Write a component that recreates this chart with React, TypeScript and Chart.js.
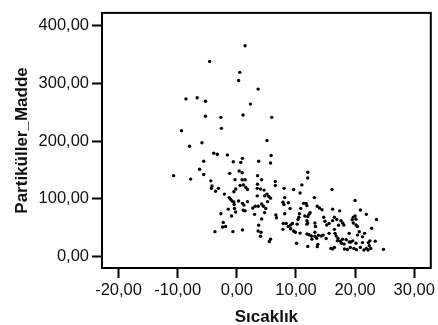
import React, { useEffect, useRef } from "react";
import { Chart, registerables } from "chart.js";

Chart.register(...registerables);

const sicaklik: number[] = [
  1.4, -4.6, 0.5, 0.3, 3.6, -8.6, -6.7, -5.3, 2.3, -5.3, -2.7, 1.05, 5.9, -9.35, -2.6,
  -8.0, -5.9, -5.6, -6.3, -5.6, -10.7, -7.8, -4.4, -4.2, -4.3,
  -3.9, -3.3, -1.6, -0.6, 0.67, 0.95, -1.2, 0.4, 0.9, -0.3, 0.9, 1.4, -3.1, -3.6, 0.55,
  1.1, 1.5, 1.8, -0.17, -0.5, -2.1, -1.3, -1.05, -0.8, -0.5, 0.3, -0.45, 0.95, 1.2, 1.8,
  -1.45, -0.4, -0.2, 1.1, 1.4, 2.7, 3.1, -2.7, -0.9, 3.0, -2.3, -2.4, -1.9, -3.7, -0.67,
  0.95, 3.6, 3.5, 3.5, 3.45, 3.45, 3.7, 3.7,
  5.1, 5.8, 5.7, 4.2, 4.0, 4.6, 5.1, 5.4, 5.7, 4.7, 5.2, 4.2, 3.6, 4.5, 4.9, 4.7, 4.2,
  4.1, 4.0, 5.7, 5.5, 6.5, 6.5, 8.0, 9.6, 10.7, 11.0, 8.1, 7.8, 7.96, 8.7, 9.0, 10.8,
  11.3, 8.1, 6.6, 6.7, 10.6, 10.5, 10.35, 7.85, 8.35, 8.7, 9.1, 9.4, 9.1, 7.8, 9.6, 9.9,
  10.2, 10.7, 10.1,
  12.0, 12.0, 16.1, 13.1, 11.7, 11.85, 13.6, 13.97, 14.4, 16.2, 17.4, 12.2, 12.4, 12.0,
  11.5, 11.85, 12.0, 11.85, 13.2, 13.3, 14.7, 14.9, 16.5, 16.9, 16.2, 17.6, 17.9, 18.1,
  15.6, 15.2, 17.2, 11.85, 12.2, 12.6, 13.2, 13.2, 13.8, 14.3, 14.6, 12.7, 13.5, 13.7,
  12.0, 13.6, 15.1, 15.6, 16.5, 16.6, 16.8, 17.0, 17.1, 17.5, 17.7, 17.9, 18.15, 18.5,
  19.0, 15.9, 16.2, 16.5, 18.2, 18.7, 19.0,
  20.0, 20.9, 21.9, 23.6, 20.0, 19.7, 20.15, 19.5, 19.7, 20.15, 20.4, 22.8, 20.7, 20.4,
  21.6, 21.25, 22.5, 22.25, 23.4, 19.3, 19.6, 20.15, 19.2, 19.8, 20.25, 20.9, 21.25,
  21.5, 21.9, 22.2, 22.4, 22.65, 24.8,
];

const partikuller: number[] = [
  365, 338, 319, 305, 290, 273, 275, 269, 264, 243, 241, 245, 241, 218, 222,
  191, 197, 165, 151, 142, 140, 134, 131, 122, 118,
  179, 177, 176, 164, 163, 170, 144, 148, 145, 133, 133, 133, 118, 113, 123,
  124, 120, 116, 117, 112, 108, 102, 99, 96, 94.5, 96, 90, 92, 89, 95,
  82, 83, 77, 80, 79, 84, 87, 74, 70, 73, 59, 51, 52, 43, 43,
  46, 44, 140, 125, 118, 105, 165, 54,
  201, 175, 162, 133, 117, 115, 108, 104, 101, 105, 95, 91, 87, 87, 83, 76, 65,
  42, 35, 30, 26, 130, 123, 118, 116, 110, 124, 102, 94, 90, 93, 83, 83,
  92, 74, 72, 67, 74, 68, 64, 57, 57, 52, 54.5, 57, 48, 47, 44, 42,
  56, 40.5, 23,
  146, 136, 116, 102, 92, 88, 87, 84, 81, 82, 79, 73, 76, 69,
  70, 62, 58, 56, 58, 52, 68, 61, 68, 64, 62, 62, 58, 54.5,
  57, 54.5, 54, 39, 37.6, 35.4, 42, 35, 36.6, 35.4, 37, 30, 31.6, 21,
  17.4, 17, 31, 40, 47, 40, 35.4, 27, 31, 26.5, 23, 30, 21.4, 29,
  25, 14, 13, 15.7, 13, 12, 40,
  97, 80.5, 73, 64, 70, 68, 64.6, 63.6, 58, 54.5, 52, 49, 42.7, 37,
  40, 34, 27, 24, 26.5, 25, 27, 23, 15.7, 14, 11.8, 15.7, 24,
  11.3, 14, 11.3, 18.6, 14, 12.3,
];

const yTicks: number[] = [0, 100, 200, 300, 400];
const xTicks: number[] = [-20, -10, 0, 10, 20, 30];

const fmt = (v: number) => v.toFixed(2).replace(".", ",");

const FONT = "Arial, 'Liberation Sans', sans-serif";

const boxPlugin = {
  id: "boxPlugin",
  afterDatasetsDraw(chart: any) {
    const { ctx, chartArea } = chart;
    ctx.save();
    ctx.strokeStyle = "#000";
    ctx.lineWidth = 2;
    ctx.strokeRect(
      chartArea.left,
      chartArea.top,
      chartArea.right - chartArea.left,
      chartArea.bottom - chartArea.top
    );
    ctx.restore();
  },
};

export default function App() {
  const ref = useRef<HTMLCanvasElement | null>(null);

  useEffect(() => {
    document.body.style.margin = "0";
    const canvas = ref.current;
    if (!canvas) return;
    const points = sicaklik.map((x, i) => ({ x, y: partikuller[i] }));
    const chart = new Chart(canvas, {
      type: "scatter",
      data: {
        datasets: [
          {
            data: points,
            backgroundColor: "#000",
            borderWidth: 0,
            pointRadius: 1.7,
          },
        ],
      },
      options: {
        responsive: false,
        animation: false,
        events: [],
        layout: {
          autoPadding: false,
          padding: { top: 6, right: 2.5, left: 0, bottom: 0 },
        },
        plugins: {
          legend: { display: false },
          tooltip: { enabled: false },
        },
        scales: {
          x: {
            type: "linear",
            min: -22.8,
            max: 32.8,
            afterBuildTicks: (scale: any) => {
              scale.ticks = xTicks.map((v) => ({ value: v }));
            },
            afterFit: (scale: any) => {
              scale.height = 57;
            },
            grid: {
              display: true,
              drawOnChartArea: false,
              drawTicks: true,
              tickLength: 10,
              tickColor: "#000",
              tickWidth: 2,
            },
            border: { display: false },
            ticks: {
              color: "#111",
              font: { family: FONT, size: 16.5 },
              padding: 3,
              maxRotation: 0,
              autoSkip: false,
              callback: (v: any) => fmt(Number(v)),
            },
            title: {
              display: true,
              text: "Sıcaklık",
              color: "#111",
              font: { family: FONT, size: 17, weight: "bold" },
              padding: { top: 0, bottom: -3 },
            },
          },
          y: {
            type: "linear",
            min: -20,
            max: 422,
            afterBuildTicks: (scale: any) => {
              scale.ticks = yTicks.map((v) => ({ value: v }));
            },
            afterFit: (scale: any) => {
              scale.width = 102;
            },
            grid: {
              display: true,
              drawOnChartArea: false,
              drawTicks: true,
              tickLength: 10,
              tickColor: "#000",
              tickWidth: 2,
            },
            border: { display: false },
            ticks: {
              color: "#111",
              font: { family: FONT, size: 16.5 },
              padding: 3,
              autoSkip: false,
              callback: (v: any) => fmt(Number(v)),
            },
            title: {
              display: true,
              text: "Partiküller_Madde",
              color: "#111",
              font: { family: FONT, size: 17, weight: "bold" },
              padding: { top: 12, bottom: 0 },
            },
          },
        },
      },
      plugins: [boxPlugin],
    } as any);
    return () => chart.destroy();
  }, []);

  return (
    <div style={{ width: 438, height: 325 }}>
      <canvas ref={ref} width={438} height={325} style={{ display: "block" }} />
    </div>
  );
}
